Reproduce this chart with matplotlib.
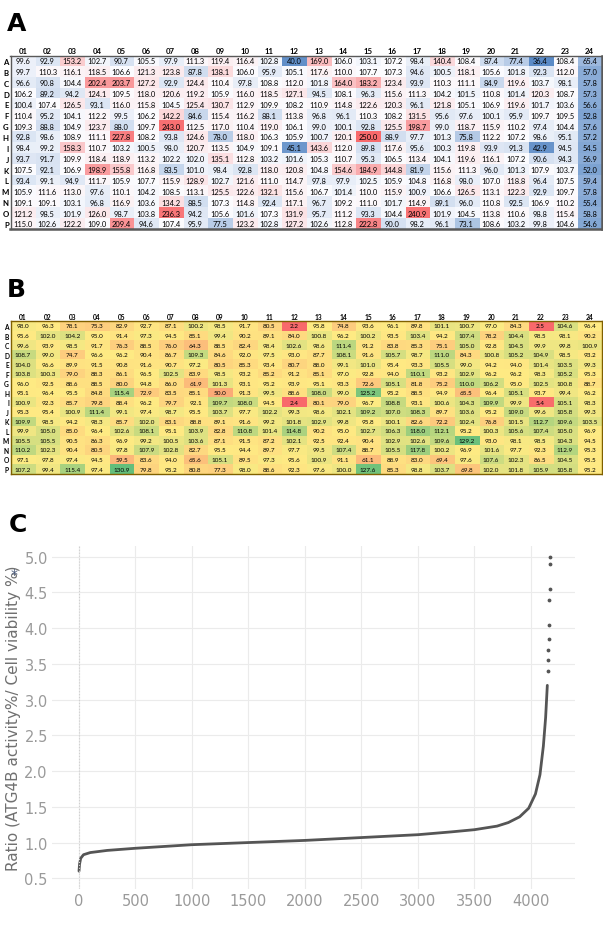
import numpy as np
import matplotlib.pyplot as plt
from matplotlib.colors import LinearSegmentedColormap, TwoSlopeNorm

W, H = 603, 937

ROWS = ["A", "B", "C", "D", "E", "F", "G", "H", "I", "J", "K", "L", "M", "N", "O", "P"]
COLS = ["01", "02", "03", "04", "05", "06", "07", "08", "09", "10", "11", "12",
        "13", "14", "15", "16", "17", "18", "19", "20", "21", "22", "23", "24"]

# panel A: ATG4B activity (%)
activity = [
    [99.6, 92.9, 153.2, 102.7, 90.7, 105.5, 97.9, 111.3, 119.4, 116.4, 102.8, 40.0, 169.0, 106.0, 103.1, 107.2, 98.4, 140.4, 108.4, 87.4, 77.4, 36.4, 108.4, 65.4],
    [99.7, 110.3, 116.1, 118.5, 106.6, 121.3, 123.8, 87.8, 138.1, 106.0, 95.9, 105.1, 117.6, 110.0, 107.7, 107.3, 94.6, 100.5, 118.1, 105.6, 101.8, 92.3, 112.0, 57.0],
    [96.6, 90.8, 104.4, 202.4, 203.7, 127.2, 92.9, 124.4, 110.4, 97.8, 108.8, 112.0, 101.8, 164.0, 183.2, 123.4, 93.9, 110.3, 111.1, 84.9, 119.6, 103.7, 98.1, 57.8],
    [106.2, 89.2, 94.2, 124.1, 109.5, 118.0, 120.6, 119.2, 105.9, 116.0, 118.5, 127.1, 94.5, 108.1, 96.3, 115.6, 111.3, 104.2, 101.5, 110.8, 101.4, 120.3, 108.7, 57.3],
    [100.4, 107.4, 126.5, 93.1, 116.0, 115.8, 104.5, 125.4, 130.7, 112.9, 109.9, 108.2, 110.9, 114.8, 122.6, 120.3, 96.1, 121.8, 105.1, 106.9, 119.6, 101.7, 103.6, 56.6],
    [110.4, 95.2, 104.1, 112.2, 99.5, 106.2, 142.2, 84.6, 115.4, 116.2, 88.1, 113.8, 96.8, 96.1, 110.3, 108.2, 131.5, 95.6, 97.6, 100.1, 95.9, 109.7, 109.5, 52.8],
    [109.3, 88.8, 104.9, 123.7, 88.0, 109.7, 243.0, 112.5, 117.0, 110.4, 119.0, 106.1, 99.0, 100.1, 92.8, 125.5, 198.7, 99.0, 118.7, 115.9, 110.2, 97.4, 104.4, 57.6],
    [92.8, 98.6, 108.9, 111.1, 227.8, 108.2, 93.8, 124.6, 78.0, 118.0, 106.3, 105.9, 100.7, 120.1, 250.0, 88.9, 97.7, 101.3, 75.8, 112.2, 107.2, 98.6, 95.1, 57.2],
    [98.4, 99.2, 158.3, 110.7, 103.2, 100.5, 98.0, 120.7, 113.5, 104.9, 109.1, 45.1, 143.6, 112.0, 89.8, 117.6, 95.6, 100.3, 119.8, 93.9, 91.3, 42.9, 94.5, 54.5],
    [93.7, 91.7, 109.9, 118.4, 118.9, 113.2, 102.2, 102.0, 135.1, 112.8, 103.2, 101.6, 105.3, 110.7, 95.3, 106.5, 113.4, 104.1, 119.6, 116.1, 107.2, 90.6, 94.3, 56.9],
    [107.5, 92.1, 106.9, 198.9, 155.8, 116.8, 83.5, 101.0, 98.4, 92.8, 118.0, 120.8, 104.8, 154.6, 184.9, 144.8, 81.9, 115.6, 111.3, 96.0, 101.3, 107.9, 103.7, 52.0],
    [93.4, 99.1, 94.9, 111.7, 105.9, 107.7, 115.9, 128.9, 102.7, 121.6, 111.0, 114.7, 97.8, 97.9, 102.5, 105.9, 104.8, 116.8, 98.0, 107.0, 118.8, 96.4, 107.5, 59.4],
    [105.9, 111.6, 113.0, 97.6, 110.1, 104.2, 108.5, 113.1, 125.5, 122.6, 132.1, 115.6, 106.7, 101.4, 110.0, 115.9, 100.9, 106.6, 126.5, 113.1, 122.3, 92.9, 109.7, 57.8],
    [109.1, 109.1, 103.1, 96.8, 116.9, 103.6, 134.2, 88.5, 107.3, 114.8, 92.4, 117.1, 96.7, 109.2, 111.0, 101.7, 114.9, 89.1, 96.0, 110.8, 92.5, 106.9, 110.2, 55.4],
    [121.2, 98.5, 101.9, 126.0, 98.7, 103.8, 236.3, 94.2, 105.6, 101.6, 107.3, 131.9, 95.7, 111.2, 93.3, 104.4, 240.9, 101.9, 104.5, 113.8, 110.6, 98.8, 115.4, 58.8],
    [115.0, 102.6, 122.2, 109.0, 209.4, 94.6, 107.4, 95.9, 77.5, 123.2, 102.8, 127.2, 102.6, 112.8, 222.8, 90.0, 98.2, 96.1, 73.1, 108.6, 103.2, 99.8, 104.6, 54.6],
]

# panel B: cell viability (%)
viability = [
    [98.0, 96.3, 78.1, 75.3, 82.9, 92.7, 87.1, 100.2, 98.5, 91.7, 80.5, 2.2, 95.8, 74.8, 93.6, 96.1, 89.8, 101.1, 100.7, 97.0, 84.3, 2.5, 104.6, 96.4],
    [95.6, 102.0, 104.2, 95.0, 91.4, 97.3, 94.5, 85.1, 99.4, 90.2, 89.1, 84.0, 100.8, 96.2, 100.2, 93.5, 103.4, 94.2, 107.4, 78.2, 104.4, 98.5, 98.1, 90.2],
    [99.6, 93.9, 98.5, 91.7, 76.3, 88.5, 76.0, 64.3, 88.5, 82.4, 98.4, 102.6, 98.6, 111.4, 91.2, 83.8, 85.3, 75.1, 105.0, 92.8, 104.5, 99.9, 99.8, 100.9],
    [108.7, 99.0, 74.7, 96.6, 96.2, 90.4, 86.7, 109.3, 84.6, 92.0, 97.5, 93.0, 87.7, 108.1, 91.6, 105.7, 98.7, 111.0, 84.3, 100.8, 105.2, 104.9, 98.5, 93.2],
    [104.0, 96.6, 89.9, 91.5, 90.8, 91.6, 90.7, 97.2, 80.5, 85.3, 93.4, 80.7, 88.0, 99.1, 101.0, 95.4, 93.3, 105.5, 99.0, 94.2, 94.0, 101.4, 103.5, 99.3],
    [103.8, 100.3, 79.0, 88.3, 86.1, 96.5, 102.5, 83.9, 98.5, 93.2, 85.2, 91.2, 85.1, 97.0, 92.8, 94.0, 110.1, 93.2, 102.9, 96.2, 96.2, 98.3, 105.2, 95.3],
    [96.0, 92.5, 88.6, 88.5, 80.0, 94.8, 86.0, 61.9, 101.3, 93.1, 95.2, 93.9, 95.1, 93.3, 72.6, 105.1, 81.8, 75.2, 110.0, 106.2, 95.0, 102.5, 100.8, 88.7],
    [95.1, 96.4, 95.5, 84.8, 115.4, 72.9, 83.5, 85.1, 50.0, 91.3, 99.5, 88.6, 108.0, 99.0, 125.2, 95.2, 88.5, 94.9, 65.5, 96.4, 105.1, 93.7, 99.4, 96.2],
    [100.9, 92.3, 85.7, 79.8, 88.4, 96.2, 79.7, 92.1, 109.7, 108.0, 94.5, 2.4, 80.1, 79.0, 96.7, 108.8, 93.1, 100.6, 104.3, 109.9, 99.9, 5.4, 105.1, 98.3],
    [95.3, 95.4, 100.9, 111.4, 99.1, 97.4, 98.7, 95.5, 103.7, 97.7, 102.2, 99.3, 98.6, 102.1, 109.2, 107.0, 108.3, 89.7, 103.6, 95.2, 109.0, 99.6, 105.8, 99.3],
    [109.9, 98.5, 94.2, 98.3, 85.7, 102.0, 83.1, 88.8, 89.1, 91.6, 99.2, 101.8, 102.9, 99.8, 95.8, 100.1, 82.6, 72.2, 102.4, 76.8, 101.5, 112.7, 109.6, 103.5],
    [99.9, 105.0, 85.0, 96.4, 102.6, 108.1, 95.1, 103.9, 82.8, 110.8, 101.4, 114.8, 90.2, 95.0, 102.7, 106.3, 118.0, 112.1, 95.2, 100.3, 105.6, 107.4, 105.0, 96.9],
    [105.5, 105.5, 90.5, 86.3, 96.9, 99.2, 100.5, 103.6, 87.1, 91.5, 87.2, 102.1, 92.5, 92.4, 90.4, 102.9, 102.6, 109.6, 129.2, 93.0, 98.1, 98.5, 104.3, 94.5],
    [110.2, 102.3, 90.4, 80.5, 97.8, 107.9, 102.8, 82.7, 95.5, 94.4, 89.7, 97.7, 99.5, 107.4, 88.7, 105.5, 117.8, 100.2, 96.9, 101.6, 97.7, 92.3, 112.9, 95.3],
    [97.1, 97.8, 97.4, 94.5, 59.5, 83.6, 94.0, 65.6, 105.1, 89.5, 97.3, 95.6, 100.9, 91.1, 61.1, 88.9, 83.0, 69.4, 97.6, 107.6, 102.3, 86.5, 104.5, 95.5],
    [107.2, 99.4, 115.4, 97.4, 130.9, 79.8, 95.2, 80.8, 77.3, 98.0, 88.6, 92.3, 97.6, 100.0, 127.6, 85.3, 98.8, 103.7, 69.8, 102.0, 101.8, 105.9, 105.8, 95.2],
]

# panel C: sorted ratio curve
rank_pts = [0, 5, 15, 40, 100, 250, 500, 1000, 1500, 2000, 2500, 3000, 3300, 3500,
            3700, 3800, 3900, 3980, 4040, 4080, 4110, 4130, 4145]
ratio_pts = [0.60, 0.70, 0.78, 0.83, 0.86, 0.89, 0.92, 0.97, 1.00, 1.03, 1.07, 1.11, 1.15, 1.18,
             1.23, 1.28, 1.36, 1.48, 1.68, 1.95, 2.35, 2.75, 3.2]
top_rank = [4150, 4152, 4155, 4158, 4160, 4163, 4165, 4167, 4168]
top_ratio = [3.4, 3.55, 3.7, 3.85, 4.05, 4.4, 4.55, 4.9, 5.0]


def px_rect(left, top, right, bottom):
    return [left / W, 1 - bottom / H, (right - left) / W, (bottom - top) / H]


def draw_plate(ax, values, cmap, fsize, hsize, edge):
    data = np.array(values)
    norm = TwoSlopeNorm(vmin=data.min(), vcenter=np.median(data), vmax=data.max())
    ax.imshow(data, cmap=cmap, norm=norm, aspect="auto", interpolation="nearest")
    for r in range(data.shape[0]):
        for c in range(data.shape[1]):
            ax.text(c, r, "%.1f" % data[r, c], ha="center", va="center",
                    fontsize=fsize, family="Lato", color="black")
    ax.xaxis.tick_top()
    ax.set_xticks(range(len(COLS)))
    ax.set_xticklabels(COLS, fontsize=hsize, fontweight="bold", family="Lato")
    ax.set_yticks(range(len(ROWS)))
    ax.set_yticklabels(ROWS, fontsize=hsize, fontweight="bold", family="Lato")
    ax.tick_params(length=0, pad=1.2)
    for s in ax.spines.values():
        s.set_color(edge)
        s.set_linewidth(1.0)


fig = plt.figure(figsize=(W / 100, H / 100), dpi=100)

# A
axA = fig.add_axes(px_rect(10.5, 56.5, 602, 230.3))
cmapA = LinearSegmentedColormap.from_list("bwr_xl", ["#5A8AC6", "#FCFCFF", "#F8696B"])
draw_plate(axA, activity, cmapA, 5.4, 5.6, "#595959")
axA.spines["right"].set_linewidth(1.8)
axA.spines["bottom"].set_linewidth(1.8)
fig.text(7 / W, 1 - 24 / H, "A", fontsize=18, fontweight="bold", va="center", ha="left")

# B
axB = fig.add_axes(px_rect(10.7, 322.2, 602, 474.8))
cmapB = LinearSegmentedColormap.from_list("ryg_xl", ["#F8696B", "#FFEB84", "#63BE7B"])
draw_plate(axB, viability, cmapB, 4.6, 4.8, "#7F6000")
fig.text(7 / W, 1 - 290 / H, "B", fontsize=18, fontweight="bold", va="center", ha="left")

# C
fig.text(9 / W, 1 - 525 / H, "C", fontsize=18, fontweight="bold", va="center", ha="left")
axC = fig.add_axes(px_rect(52, 547, 575, 890))
axC.plot(rank_pts, ratio_pts, color="#555555", lw=2.0, solid_capstyle="round")
axC.scatter(top_rank, top_ratio, s=3, color="#555555", zorder=3)
axC.set_xlim(-239, 4390)
axC.set_ylim(0.35, 5.15)
axC.set_xticks(np.arange(0, 4001, 500))
axC.set_yticks(np.arange(0.5, 5.01, 0.5))
axC.set_yticklabels(["%.1f" % v for v in np.arange(0.5, 5.01, 0.5)])
axC.grid(True, color="#ebebeb", lw=0.8)
axC.axvline(0, color="#d0d0d0", lw=0.8, ls=":")
axC.set_axisbelow(True)
for s in axC.spines.values():
    s.set_visible(False)
axC.tick_params(length=0, labelsize=10.5, labelcolor="#9a9a9a", pad=3)
fig.text(14 / W, 1 - 718 / H, "Ratio (ATG4B activity%/ Cell viability %)",
         rotation=90, fontsize=11, color="#707070", ha="center", va="center")
fig.text(14 / W, 1 - 575 / H, "*", fontsize=10, color="#4a5a7a", ha="center", va="center")

fig.savefig("out.png", dpi=100)
